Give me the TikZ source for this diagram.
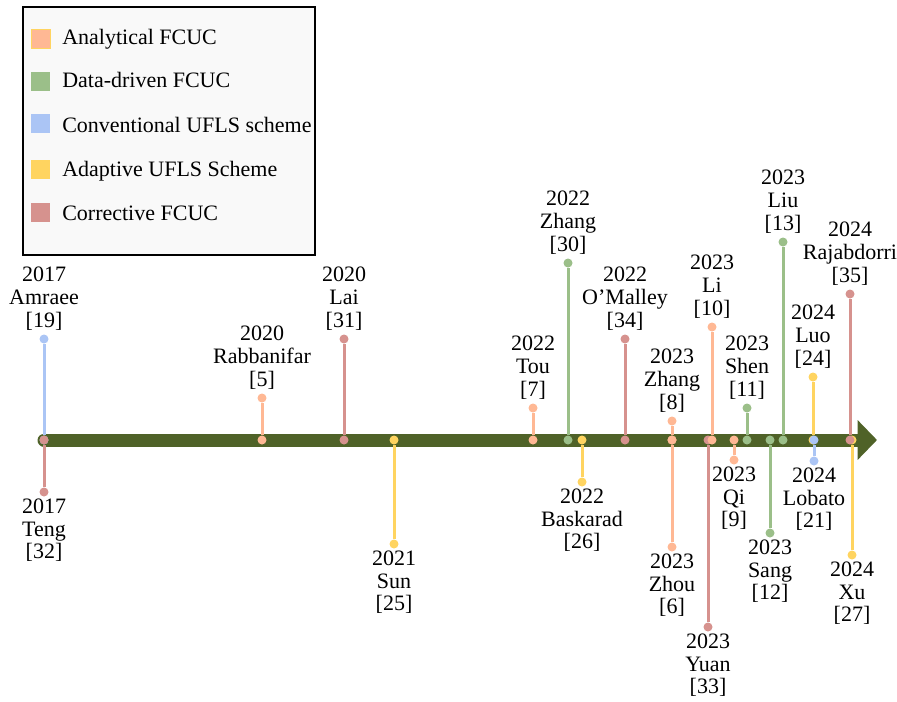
\documentclass[tikz,border=0pt]{standalone}
\usepackage{fontspec}
\setmainfont{Liberation Serif}
\usetikzlibrary{arrows.meta}
\definecolor{anaC}{HTML}{FFB894}
\definecolor{datC}{HTML}{9BBF89}
\definecolor{conC}{HTML}{ABC5F5}
\definecolor{adaC}{HTML}{FFD460}
\definecolor{corC}{HTML}{D6928E}
\definecolor{lineC}{HTML}{4F6228}
\tikzset{
  timeline/.style = {line width=9.75pt, lineC, line cap=round, -{Triangle[length=14.5pt, width=29pt]}},
  dot/.style      = {circle, fill=#1, inner sep=0, minimum size=6.75pt},
  stem/.style     = {#1, line width=2.25pt},
  lab/.style      = {font=\fontsize{16.5}{17}\selectfont, align=center, inner sep=0},
  legbox/.style   = {draw=black, line width=0.8pt, fill=gray!5},
  legsq/.style    = {rectangle, fill=#1, inner sep=0, minimum size=14.25pt},
  legtx/.style    = {font=\fontsize{16.5}{17}\selectfont, anchor=base west, inner sep=0}
}

\begin{document}
\begin{tikzpicture}[x=0.75pt, y=-0.75pt]
  \useasboundingbox (0,0) rectangle (897,701);
  % legend
  \draw[legbox] (23,7) rectangle (315,255);
  \node[legsq=anaC, draw=adaC, line width=0.5pt] (kA) at (40.5,38.8){}; \node[legtx] (tA) at (62,44)  {Analytical FCUC};
  \node[legsq=datC] (kD) at (40.5,81.2) {}; \node[legtx] (tD) at (62,87)  {Data-driven FCUC};
  \node[legsq=conC] (kC) at (40.5,123.3){}; \node[legtx] (tC) at (62,132) {Conventional UFLS scheme};
  \node[legsq=adaC] (kP) at (40.5,169.5){}; \node[legtx] (tP) at (62,176) {Adaptive UFLS Scheme};
  \node[legsq=corC] (kR) at (40.5,212)  {}; \node[legtx] (tR) at (62,220) {Corrective FCUC};

  % time axis
  \coordinate (t0) at (44,440); \coordinate (t1) at (877,440);
  \draw[timeline] (t0) -- (t1);

  % 2017 - 2021
  \node[dot=conC] (amraeeA) at (44,440){}; \node[dot=conC] (amraee) at (44,339){}; \draw[stem=conC] (amraeeA)--(amraee); \node[lab,above=6.5pt] (amraeeL) at (amraee) {2017\\Amraee\\{[19]}};
  \node[dot=corC] (tengA) at (44,440){}; \node[dot=corC] (teng) at (44,492){}; \draw[stem=corC] (tengA)--(teng); \node[lab,below=5pt] (tengL) at (teng) {2017\\Teng\\{[32]}};
  \node[dot=anaC] (rabbA) at (262,440){}; \node[dot=anaC] (rabb) at (262,398){}; \draw[stem=anaC] (rabbA)--(rabb); \node[lab,above=6.5pt] (rabbL) at (rabb) {2020\\Rabbanifar\\{[5]}};
  \node[dot=corC] (laiA) at (344,440){}; \node[dot=corC] (lai) at (344,339){}; \draw[stem=corC] (laiA)--(lai); \node[lab,above=6.5pt] (laiL) at (lai) {2020\\Lai\\{[31]}};
  \node[dot=adaC] (sunA) at (394,440){}; \node[dot=adaC] (sun) at (394,544){}; \draw[stem=adaC] (sunA)--(sun); \node[lab,below=5pt] (sunL) at (sun) {2021\\Sun\\{[25]}};

  % 2022
  \node[dot=anaC] (touA) at (533,440){}; \node[dot=anaC] (tou) at (533,408){}; \draw[stem=anaC] (touA)--(tou); \node[lab,above=6.5pt] (touL) at (tou) {2022\\Tou\\{[7]}};
  \node[dot=datC] (zhaA) at (568,440){}; \node[dot=datC] (zha) at (568,263){}; \draw[stem=datC] (zhaA)--(zha); \node[lab,above=6.5pt] (zhaL) at (zha) {2022\\Zhang\\{[30]}};
  \node[dot=adaC] (baskA) at (582,440){}; \node[dot=adaC] (bask) at (582,482){}; \draw[stem=adaC] (baskA)--(bask); \node[lab,below=5pt] (baskL) at (bask) {2022\\Baskarad\\{[26]}};
  \node[dot=corC] (omalA) at (625,440){}; \node[dot=corC] (omal) at (625,339){}; \draw[stem=corC] (omalA)--(omal); \node[lab,above=6.5pt] (omalL) at (omal) {2022\\O’Malley\\{[34]}};

  % 2023
  \node[dot=anaC] (zhbA) at (672,440){}; \node[dot=anaC] (zhb) at (672,421){}; \draw[stem=anaC] (zhbA)--(zhb); \node[lab,above=6.5pt] (zhbL) at (zhb) {2023\\Zhang\\{[8]}};
  \node[dot=anaC] (zhouA) at (672,440){}; \node[dot=anaC] (zhou) at (672,547){}; \draw[stem=anaC] (zhouA)--(zhou); \node[lab,below=5pt] (zhouL) at (zhou) {2023\\Zhou\\{[6]}};
  \node[dot=corC] (yuanA) at (708,440){}; \node[dot=corC] (yuan) at (708,627){}; \draw[stem=corC] (yuanA)--(yuan); \node[lab,below=5pt] (yuanL) at (yuan) {2023\\Yuan\\{[33]}};
  \node[dot=anaC] (liA) at (712,440){}; \node[dot=anaC] (li) at (712,327){}; \draw[stem=anaC] (liA)--(li); \node[lab,above=6.5pt] (liL) at (li) {2023\\Li\\{[10]}};
  \node[dot=anaC] (qiA) at (734,440){}; \node[dot=anaC] (qi) at (734,460){}; \draw[stem=anaC] (qiA)--(qi); \node[lab,below=5pt] (qiL) at (qi) {2023\\Qi\\{[9]}};
  \node[dot=datC] (shenA) at (747,440){}; \node[dot=datC] (shen) at (747,408){}; \draw[stem=datC] (shenA)--(shen); \node[lab,above=6.5pt] (shenL) at (shen) {2023\\Shen\\{[11]}};
  \node[dot=datC] (sangA) at (770,440){}; \node[dot=datC] (sang) at (770,533){}; \draw[stem=datC] (sangA)--(sang); \node[lab,below=5pt] (sangL) at (sang) {2023\\Sang\\{[12]}};
  \node[dot=datC] (liuA) at (783,440){}; \node[dot=datC] (liu) at (783,242){}; \draw[stem=datC] (liuA)--(liu); \node[lab,above=6.5pt] (liuL) at (liu) {2023\\Liu\\{[13]}};

  % 2024
  \node[dot=adaC] (luoA) at (813,440){}; \node[dot=adaC] (luo) at (813,377){}; \draw[stem=adaC] (luoA)--(luo); \node[lab,above=6.5pt] (luoL) at (luo) {2024\\Luo\\{[24]}};
  \node[dot=conC] (lobA) at (814,440){}; \node[dot=conC] (lob) at (814,461){}; \draw[stem=conC] (lobA)--(lob); \node[lab,below=5pt] (lobL) at (lob) {2024\\Lobato\\{[21]}};
  \node[dot=adaC] (xuA) at (852,440){}; \node[dot=adaC] (xu) at (852,555){}; \draw[stem=adaC] (xuA)--(xu); \node[lab,below=5pt] (xuL) at (xu) {2024\\Xu\\{[27]}};
  \node[dot=corC] (rajA) at (850,440){}; \node[dot=corC] (raj) at (850,294){}; \draw[stem=corC] (rajA)--(raj); \node[lab,above=6.5pt] (rajL) at (raj) {2024\\Rajabdorri\\{[35]}};
\end{tikzpicture}
\end{document}
